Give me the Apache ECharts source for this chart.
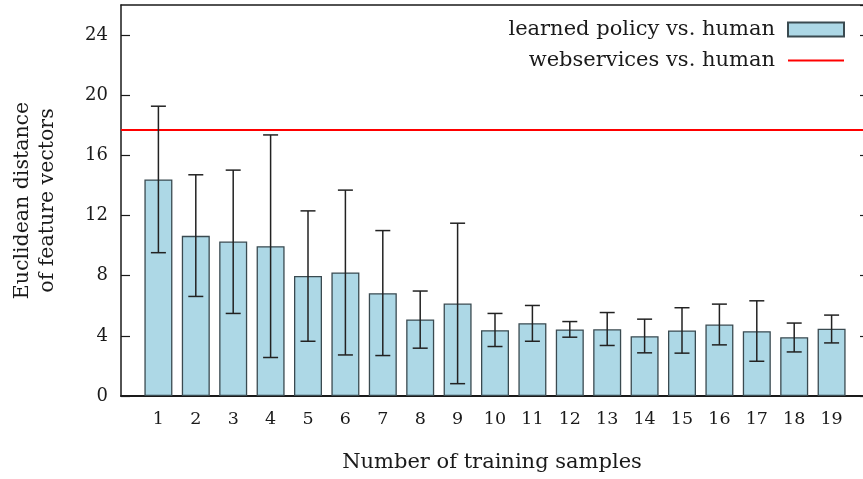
<!DOCTYPE html>
<html>
<head>
<meta charset="utf-8">
<script src="https://cdn.jsdelivr.net/npm/echarts@6/dist/echarts.min.js"></script>
<style>
html,body{margin:0;padding:0;background:#fff;}
#chart{width:863px;height:479px;}
</style>
</head>
<body>
<div id="chart"></div>
<script>
var categories = [1,2,3,4,5,6,7,8,9,10,11,12,13,14,15,16,17,18,19];
var policyMean = [14.4, 10.65, 10.27, 9.96, 7.98, 8.22, 6.84, 5.09, 6.15, 4.38, 4.84, 4.43, 4.44, 3.98, 4.36, 4.75, 4.31, 3.91, 4.47];
var policyUpper = [19.27, 14.71, 15.02, 17.36, 12.31, 13.69, 11.0, 6.98, 11.49, 5.49, 6.02, 4.95, 5.55, 5.11, 5.87, 6.11, 6.33, 4.85, 5.38];
var policyLower = [9.53, 6.62, 5.49, 2.56, 3.64, 2.73, 2.69, 3.18, 0.82, 3.29, 3.64, 3.91, 3.36, 2.87, 2.85, 3.4, 2.31, 2.93, 3.53];
var webservicesValue = 17.7;
var yTicks = [0,4,8,12,16,20,24];
var seriesNames = ['learned policy vs. human', 'webservices vs. human'];
var xAxisTitle = 'Number of training samples';
var yAxisTitle = 'Euclidean distance\nof feature vectors';

var FONT = "'DejaVu Serif', serif";
var INK = '#1a1a1a';

var barData = categories.map(function (c, i) { return [c, policyMean[i]]; });
var errData = categories.map(function (c, i) { return [c, policyLower[i], policyUpper[i]]; });

var chart = echarts.init(document.getElementById('chart'), null, {renderer: 'canvas'});
chart.setOption({
  animation: false,
  backgroundColor: '#ffffff',
  textStyle: {fontFamily: FONT, color: INK},
  grid: {left: 121, top: 5, width: 748, height: 391, containLabel: false, outerBoundsMode: 'none'},
  legend: {
    orient: 'vertical',
    align: 'right',
    right: 13,
    top: 14,
    itemWidth: 56,
    itemHeight: 14,
    itemGap: 10,
    textStyle: {fontFamily: FONT, fontSize: 21, color: INK, padding: [0, 8, 0, 0]},
    data: [
      {name: seriesNames[0], icon: 'rect'},
      {name: seriesNames[1], icon: 'path://M0,0H28V1H0Z'}
    ]
  },
  xAxis: [{
    type: 'value',
    min: 0,
    max: 20,
    interval: 1,
    splitLine: {show: false},
    axisLine: {show: true, lineStyle: {color: INK, width: 2}},
    axisTick: {show: false},
    axisLabel: {
      fontFamily: FONT, fontSize: 17.5, color: INK, margin: 14,
      formatter: function (v) { return categories.indexOf(v) >= 0 ? String(v) : ''; }
    },
    name: xAxisTitle,
    nameLocation: 'middle',
    nameGap: 56,
    nameTextStyle: {fontFamily: FONT, fontSize: 21, color: INK, padding: [0, 6, 0, 0]}
  }, {
    type: 'value',
    position: 'top',
    min: 0,
    max: 20,
    axisLine: {show: true, onZero: false, lineStyle: {color: INK, width: 1.5}},
    axisTick: {show: false},
    axisLabel: {show: false},
    splitLine: {show: false}
  }],
  yAxis: [{
    type: 'value',
    min: 0,
    max: 26,
    interval: 4,
    splitLine: {show: false},
    axisLine: {show: true, lineStyle: {color: INK, width: 1.5}},
    axisTick: {show: true, inside: true, length: 9, lineStyle: {color: INK, width: 1.2}},
    axisLabel: {
      fontFamily: FONT, fontSize: 18, color: INK, margin: 13, showMaxLabel: false,
      formatter: function (v) { return yTicks.indexOf(v) >= 0 ? String(v) : ''; }
    },
    name: yAxisTitle,
    nameLocation: 'middle',
    nameGap: 61,
    nameTextStyle: {fontFamily: FONT, fontSize: 20.5, color: INK, lineHeight: 25, align: 'center'}
  }, {
    type: 'value',
    position: 'right',
    min: 0,
    max: 26,
    interval: 4,
    splitLine: {show: false},
    axisLine: {show: true, onZero: false, lineStyle: {color: INK, width: 1.5}},
    axisTick: {show: true, inside: true, length: 9, lineStyle: {color: INK, width: 1.2}},
    axisLabel: {show: false}
  }],
  series: [{
    name: seriesNames[0],
    type: 'bar',
    xAxisIndex: 0,
    yAxisIndex: 0,
    barWidth: 28,
    data: barData,
    itemStyle: {color: '#add8e6', borderColor: '#3a4a50', borderWidth: 1.3},
    z: 2
  }, {
    name: 'err',
    type: 'custom',
    xAxisIndex: 0,
    yAxisIndex: 0,
    data: errData,
    z: 5,
    renderItem: function (params, api) {
      var x = api.value(0);
      var lo = api.coord([x, api.value(1)]);
      var hi = api.coord([x, api.value(2)]);
      var hw = 7.5;
      var style = {stroke: '#222', lineWidth: 1.5};
      return {
        type: 'group',
        children: [
          {type: 'line', shape: {x1: lo[0], y1: lo[1], x2: hi[0], y2: hi[1]}, style: style},
          {type: 'line', shape: {x1: lo[0] - hw, y1: lo[1], x2: lo[0] + hw, y2: lo[1]}, style: style},
          {type: 'line', shape: {x1: hi[0] - hw, y1: hi[1], x2: hi[0] + hw, y2: hi[1]}, style: style}
        ]
      };
    }
  }, {
    name: seriesNames[1],
    type: 'line',
    xAxisIndex: 0,
    yAxisIndex: 0,
    data: [],
    symbol: 'none',
    itemStyle: {color: '#ff0000'},
    lineStyle: {color: '#ff0000', width: 2},
    markLine: {
      silent: true,
      symbol: ['none', 'none'],
      label: {show: false},
      lineStyle: {color: '#ff0000', width: 2, type: 'solid'},
      data: [{yAxis: webservicesValue}]
    },
    z: 6
  }]
});
</script>
</body>
</html>
